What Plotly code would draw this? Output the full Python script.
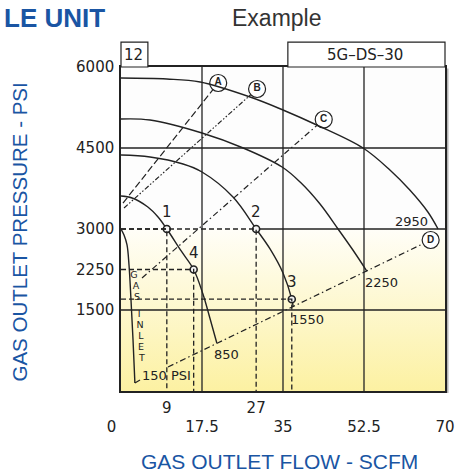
import plotly.graph_objects as go

BLUE = "#1a55a3"
INK = "#222222"
TICK_FONT = dict(family="DejaVu Sans", size=15, color=INK)
LABEL_FONT = dict(family="DejaVu Sans", size=13, color=INK)

# axis ticks
X_TICKS = [0, 17.5, 35, 52.5, 70]
X_TICK_TEXT = ["0\u00a0\u00a0\u00a0\u00a0", "17.5", "35", "52.5", "70"]
Y_TICKS = [1500, 2250, 3000, 4500, 6000]
X_GRID = [17.5, 35, 52.5]
Y_GRID = [1500, 4500]

# operating curves, one per gas inlet pressure (flow SCFM, outlet pressure PSI)
FLOW_150 = [0, 0.65, 1.3, 1.73, 2.16, 2.6, 3.0]
PRES_150 = [3000, 2889, 2704, 2333, 1685, 944, 148]
LEADER_150_FLOW = [3.0, 4.1]
LEADER_150_PRES = [148, 204]
FLOW_850 = [0, 2.4, 5.8, 8.0, 9.9, 13.0, 15.7, 17.7, 19.2, 20.7]
PRES_850 = [3611, 3574, 3407, 3222, 3000, 2593, 2250, 1796, 1352, 889]
FLOW_1550 = [0, 6.27, 13.4, 17.5, 24.2, 29.2, 32.2, 35.0, 36.9, 37.2]
PRES_1550 = [4370, 4333, 4204, 4056, 3593, 3000, 2630, 2185, 1700, 1556]
FLOW_2250 = [0, 6.27, 17.5, 26.4, 34.8, 38.7, 43.0, 46.9, 50.1, 53.1]
PRES_2250 = [5037, 5019, 4778, 4500, 4148, 3870, 3463, 3000, 2611, 2222]
FLOW_2950 = [0, 9.9, 17.1, 27.9, 35.0, 42.3, 52.3, 58.1, 62.4, 66.3, 68.5]
PRES_2950 = [5796, 5778, 5722, 5444, 5204, 4926, 4500, 4093, 3722, 3315, 3000]

# worked example points
POINT_NAMES = ["1", "2", "3", "4"]
POINT_FLOW = [9.9, 29.2, 36.9, 15.7]
POINT_PRES = [3000, 3000, 1700, 2250]
POINT_FLOW_TEXT = ["9", "27"]

# lettered guide lines: start point and circled end point
GUIDE_NAMES = ["A", "B", "C", "D"]
GUIDE_START_FLOW = [0.43, 0.65, 4.54, 10.15]
GUIDE_START_PRES = [3481, 3389, 2093, 444]
GUIDE_END_FLOW = [21.0, 29.4, 43.8, 66.9]
GUIDE_END_PRES = [5704, 5593, 5028, 2796]
GUIDE_DASH = ["7px,3px", "5px,2px,1.5px,2px,1.5px,2px", "6px,3px,1.5px,3px", "6px,3px,1.5px,3px"]

GAS_ZONE_TOP = 3000

fig = go.Figure()

# yellow gas-zone background below 3000 psi
fig.add_trace(go.Scatter(
    x=[X_TICKS[0], X_TICKS[-1], X_TICKS[-1], X_TICKS[0]],
    y=[0, 0, GAS_ZONE_TOP, GAS_ZONE_TOP],
    fill="toself", mode="none",
    fillgradient=dict(type="vertical", start=0, stop=GAS_ZONE_TOP,
                      colorscale=[[0, "#fcf1a2"], [1, "#fffef8"]]),
    hoverinfo="skip",
))

# solid grid
gx, gy = [], []
for v in X_GRID:
    gx += [v, v, None]
    gy += [0, 6000, None]
for v in Y_GRID:
    gx += [0, 70, None]
    gy += [v, v, None]
gx += [POINT_FLOW[1], 70]
gy += [GAS_ZONE_TOP, GAS_ZONE_TOP]
fig.add_trace(go.Scatter(x=gx, y=gy, mode="lines", line=dict(color=INK, width=1.3), hoverinfo="skip"))

# dashed read-off lines for each example point
dx, dy = [], []
for fx, py in zip(POINT_FLOW, POINT_PRES):
    dx += [0, fx, fx, None]
    dy += [py, py, 0, None]
fig.add_trace(go.Scatter(x=dx, y=dy, mode="lines", xaxis="x2",
                         line=dict(color=INK, width=1.3, dash="5px,3px"), hoverinfo="skip"))

# guide lines A-D
for name, x0, y0, x1, y1, dash in zip(GUIDE_NAMES, GUIDE_START_FLOW, GUIDE_START_PRES,
                                      GUIDE_END_FLOW, GUIDE_END_PRES, GUIDE_DASH):
    fig.add_trace(go.Scatter(x=[x0, x1], y=[y0, y1], mode="lines",
                             line=dict(color=INK, width=1.2, dash=dash), hoverinfo="skip"))
fig.add_trace(go.Scatter(
    x=GUIDE_END_FLOW, y=GUIDE_END_PRES, mode="markers+text", text=GUIDE_NAMES,
    textposition="middle center",
    textfont=dict(family="Liberation Sans", size=10, color=INK, weight="bold"),
    marker=dict(size=17, color="white", line=dict(color=INK, width=1.2)),
    hoverinfo="skip",
))

# pressure curves
for fx, py in [(FLOW_150, PRES_150), (FLOW_850, PRES_850), (FLOW_1550, PRES_1550),
               (FLOW_2250, PRES_2250), (FLOW_2950, PRES_2950)]:
    fig.add_trace(go.Scatter(x=fx, y=py, mode="lines", line=dict(color=INK, width=1.4, shape="spline"),
                             hoverinfo="skip"))
fig.add_trace(go.Scatter(x=LEADER_150_FLOW, y=LEADER_150_PRES, mode="lines",
                         line=dict(color=INK, width=1.2), hoverinfo="skip"))

# example points
fig.add_trace(go.Scatter(x=POINT_FLOW, y=POINT_PRES, mode="markers",
                         marker=dict(size=7, color="#f4f4f4", line=dict(color=INK, width=1.6)),
                         hoverinfo="skip"))
for name, fx, py in zip(POINT_NAMES, POINT_FLOW, POINT_PRES):
    fig.add_annotation(x=fx, y=py, text=name, showarrow=False, yshift=17,
                       xanchor="center", yanchor="middle",
                       font=dict(family="DejaVu Sans", size=15, color=INK))

# curve labels
for text, fx, py in [("150 PSI", 9.9, 296), ("850", 22.9, 685), ("1550", 40.2, 1315),
                     ("2250", 56.2, 2018), ("2950", 62.7, 3130)]:
    fig.add_annotation(x=fx, y=py, text=text, showarrow=False, font=LABEL_FONT,
                       xanchor="center", yanchor="middle")

# vertical "GAS" / "INLET" lettering
fig.add_trace(go.Scatter(
    x=[2.8, 3.24, 3.46, 3.9, 4.1, 4.3, 4.3, 4.5],
    y=[2130, 1926, 1722, 1407, 1204, 1000, 796, 593],
    text=list("GAS") + list("INLET"), mode="text",
    textfont=dict(family="DejaVu Sans", size=9.5, color=INK), hoverinfo="skip",
))

# header boxes and titles
fig.add_shape(type="rect", xref="paper", yref="paper", x0=0, x1=0.083, y0=1, y1=1.077,
              line=dict(color=INK, width=1.2), fillcolor="white")
fig.add_shape(type="rect", xref="paper", yref="paper", x0=0.515, x1=1, y0=1, y1=1.077,
              line=dict(color=INK, width=1.2), fillcolor="white")
fig.add_shape(type="line", xref="paper", yref="paper", x0=1.007, x1=1.007, y0=-0.006, y1=0.995,
              line=dict(color="#b4b4b4", width=2.5), layer="below")


def paper_text(x, y, text, font, **kw):
    fig.add_annotation(xref="paper", yref="paper", x=x, y=y, text=text, showarrow=False,
                       xanchor=kw.pop("xanchor", "center"), yanchor="middle", font=font, **kw)


paper_text(0.04, 1.037, "12", dict(family="DejaVu Sans", size=15, color=INK))
paper_text(0.753, 1.037, "5G\u2013DS\u201330", dict(family="DejaVu Sans", size=15, color=INK))
paper_text(-0.367, 1.151, "<b>LE UNIT</b>", dict(family="Liberation Sans", size=26, color=BLUE),
           xanchor="left")
paper_text(0.481, 1.151, "Example", dict(family="Liberation Sans", size=23, color="#333333"))
paper_text(-0.313, 0.491, "GAS OUTLET PRESSURE - PSI",
           dict(family="Liberation Sans", size=20.5, color=BLUE), textangle=-90)
paper_text(0.488, -0.219, "GAS OUTLET FLOW - SCFM", dict(family="Liberation Sans", size=21, color=BLUE))

axis_common = dict(showgrid=False, zeroline=False, ticks="outside", tickcolor="rgba(0,0,0,0)",
                   tickfont=TICK_FONT)
fig.update_layout(
    template="none",
    width=457, height=475,
    margin=dict(l=121, r=12, t=67, b=84),
    paper_bgcolor="white", plot_bgcolor="#fdfdfd",
    showlegend=False,
    xaxis=dict(range=[0, 70], tickvals=X_TICKS, ticktext=X_TICK_TEXT, ticklen=21,
               showline=True, mirror=True, linecolor=INK, linewidth=1.5, **axis_common),
    xaxis2=dict(range=[0, 70], overlaying="x", matches="x", anchor="y", side="bottom",
                tickvals=POINT_FLOW[:2], ticktext=POINT_FLOW_TEXT, ticklen=3, showline=False,
                **axis_common),
    yaxis=dict(range=[0, 6000], tickvals=Y_TICKS, ticklen=2,
               showline=True, mirror=True, linecolor=INK, linewidth=1.5, **axis_common),
)

fig.write_html("out.html", config={"displayModeBar": False},
               post_script="document.body.style.margin = '0';")
